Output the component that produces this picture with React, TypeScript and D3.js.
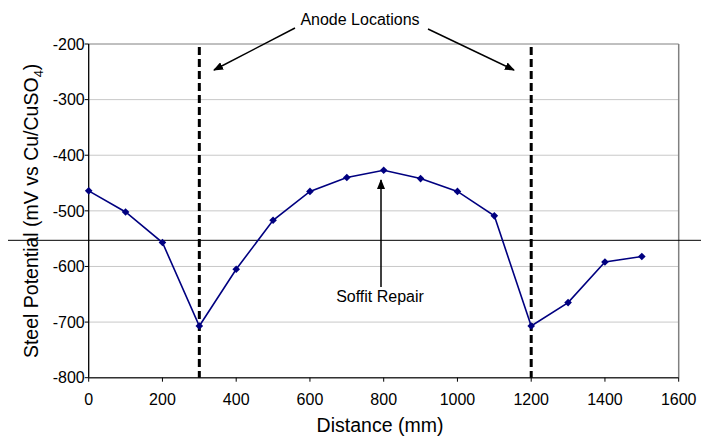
import React from "react";
import * as d3 from "d3";

const distances = [0, 100, 200, 300, 400, 500, 600, 700, 800, 900, 1000, 1100, 1200, 1300, 1400, 1500];
const potentials = [-464, -502, -557, -707, -605, -517, -465, -440, -427, -442, -465, -509, -707, -665, -592, -582];
const anodeLocations = [300, 1200];
const xTicks = [0, 200, 400, 600, 800, 1000, 1200, 1400, 1600];
const yTicks = [-200, -300, -400, -500, -600, -700, -800];
const thresholdValue = -553;

const W = 701, H = 437;
const left = 88.7, right = 678.7, top = 44, bottom = 377.7;

export default function App() {
  const x = d3.scaleLinear().domain([0, 1600]).range([left, right]);
  const y = d3.scaleLinear().domain([-200, -800]).range([top, bottom]);
  const line = d3.line<number>().x((_, i) => x(distances[i])).y((d) => y(d));
  const font = "Arial, 'Liberation Sans', sans-serif";
  const diamond = "M0,-3.8L3.8,0L0,3.8L-3.8,0Z";

  return (
    <svg width={W} height={H} style={{ position: "absolute", left: 0, top: 0, background: "#fff" }} fontFamily={font}>
      <defs>
        <marker id="ah" markerWidth="10" markerHeight="8" refX="9" refY="4" orient="auto" markerUnits="userSpaceOnUse">
          <path d="M0,0 L10,4 L0,8 Z" fill="#000" />
        </marker>
      </defs>
      {yTicks.map((t) => (
        <line key={t} x1={left} x2={right} y1={y(t)} y2={y(t)} stroke={t === -200 ? "#808080" : "#c8c8c8"} strokeWidth={1} />
      ))}
      <line x1={right} x2={right} y1={top} y2={bottom} stroke="#808080" strokeWidth={1.5} />
      <line x1={left} x2={left} y1={top} y2={bottom} stroke="#000" strokeWidth={1.3} />
      <line x1={left} x2={right} y1={bottom} y2={bottom} stroke="#333" strokeWidth={1.5} />
      {yTicks.map((t) => (
        <g key={t}>
          <line x1={left - 4} x2={left} y1={y(t)} y2={y(t)} stroke="#000" />
          <text x={left - 4} y={y(t)} dy="0.36em" textAnchor="end" fontSize={16} fill="#000">{t}</text>
        </g>
      ))}
      {xTicks.map((t) => (
        <g key={t}>
          <line x1={x(t)} x2={x(t)} y1={bottom} y2={bottom + 4} stroke="#000" />
          <text x={x(t)} y={bottom + 27.5} textAnchor="middle" fontSize={16} fill="#000">{t}</text>
        </g>
      ))}
      <line x1={8} x2={W} y1={y(thresholdValue)} y2={y(thresholdValue)} stroke="#000" strokeWidth={1} />
      {anodeLocations.map((a) => (
        <line key={a} x1={x(a)} x2={x(a)} y1={top + 3} y2={bottom} stroke="#000" strokeWidth={3} strokeDasharray="8,4" />
      ))}
      <path d={line(potentials)!} fill="none" stroke="#000080" strokeWidth={1.6} />
      {potentials.map((p, i) => (
        <path key={i} d={diamond} transform={`translate(${x(distances[i])},${y(p)})`} fill="#000080" />
      ))}
      <text x={360} y={25} textAnchor="middle" fontSize={16} fill="#000">Anode Locations</text>
      <line x1={295} y1={28} x2={214} y2={70} stroke="#000" strokeWidth={1.5} markerEnd="url(#ah)" />
      <line x1={428} y1={29} x2={514} y2={70} stroke="#000" strokeWidth={1.5} markerEnd="url(#ah)" />
      <text x={380} y={302} textAnchor="middle" fontSize={16} fill="#000">Soffit Repair</text>
      <line x1={381} y1={287} x2={381} y2={180} stroke="#000" strokeWidth={1.5} markerEnd="url(#ah)" />
      <text x={380} y={432} textAnchor="middle" fontSize={19.5} fill="#000">Distance (mm)</text>
      <text transform={`translate(38,${(top + bottom) / 2}) rotate(-90)`} textAnchor="middle" fontSize={19.5} fill="#000">
        Steel Potential (mV vs Cu/CuSO<tspan fontSize={13} dy={5}>4</tspan><tspan dy={-5}>)</tspan>
      </text>
    </svg>
  );
}
